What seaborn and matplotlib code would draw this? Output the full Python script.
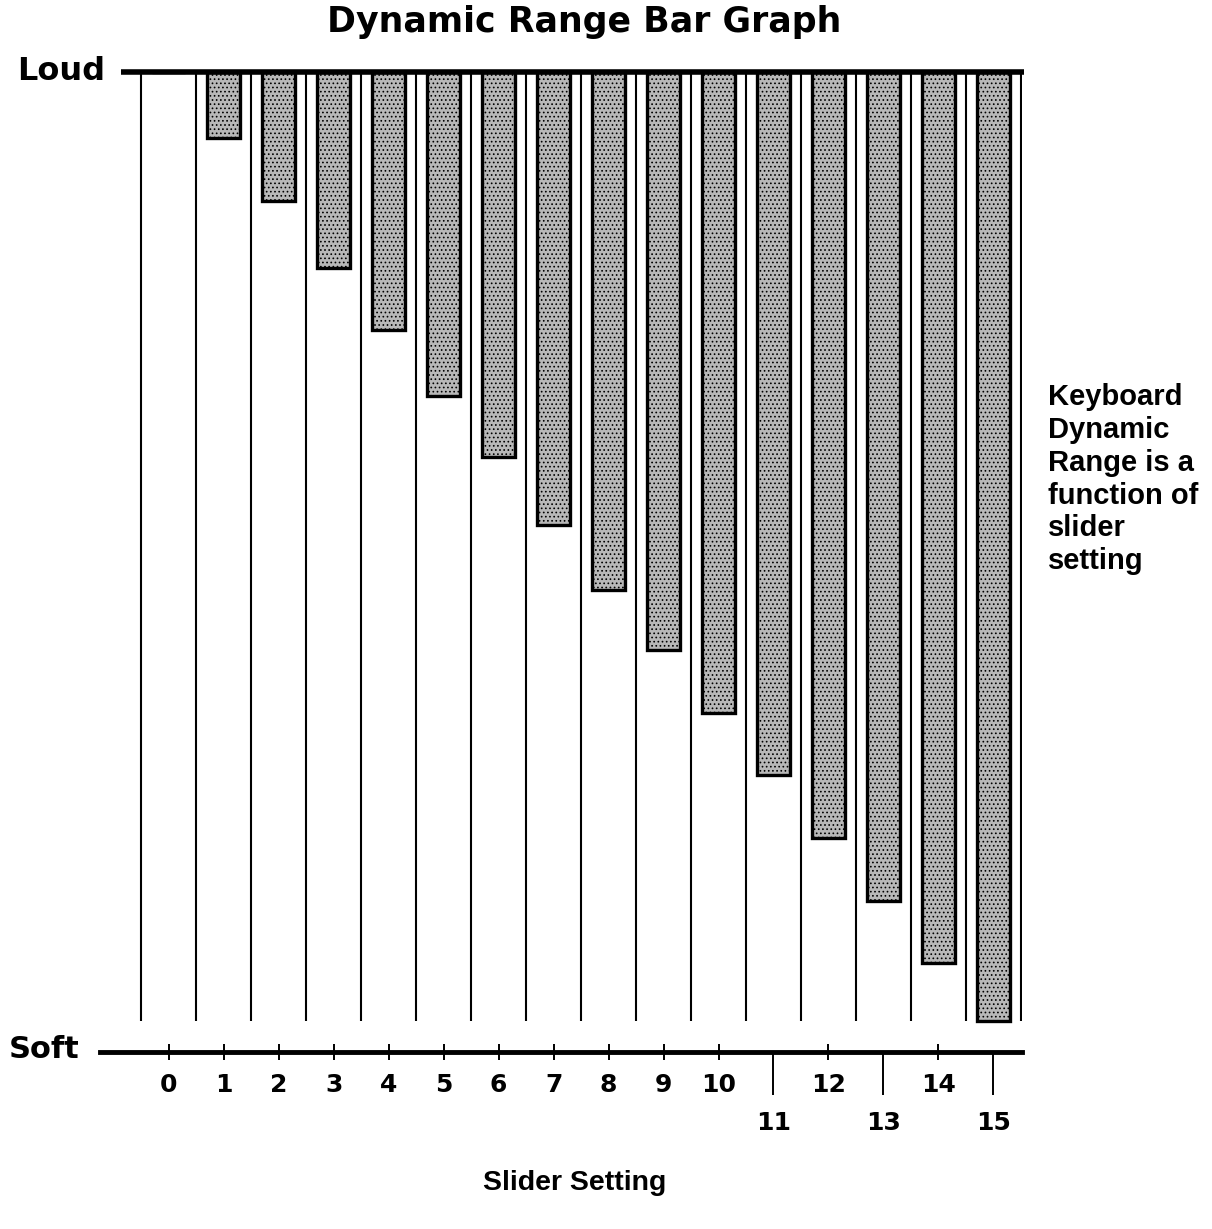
import matplotlib
matplotlib.use("Agg")
from matplotlib import pyplot as plt
import seaborn as sns
import numpy as np

# slider setting vs. how far the dynamic range reaches down from "Loud"
slider = list(range(16))
depth = [0, 1.04, 2.04, 3.1, 4.08, 5.12, 6.08, 7.16, 8.18, 9.13,
         10.13, 11.1, 12.1, 13.1, 14.08, 15.0]
upper_labels = [0, 1, 2, 3, 4, 5, 6, 7, 8, 9, 10, 12, 14]
lower_labels = [11, 13, 15]

sns.set_theme(style="white")
plt.rcParams['font.family'] = ['DejaVu Sans']
plt.rcParams['text.color'] = 'black'
plt.rcParams['xtick.color'] = 'black'
plt.rcParams['xtick.labelcolor'] = 'black'
plt.rcParams['hatch.linewidth'] = 0.7

soft = 15.48

fig = plt.figure(figsize=(12.12, 12.29), dpi=100)
ax = fig.add_axes([100 / 1212, 1 - 1065 / 1229, 922 / 1212, 1005 / 1229])

sns.barplot(x=slider, y=depth, ax=ax, color="#b8b8b8", saturation=1,
            width=0.6, edgecolor="black", linewidth=2.4, hatch="....")

# column separators and the "Loud" line
ax.vlines(np.arange(-0.5, len(slider)), 0, 15.0, color="black", lw=1.5)
ax.hlines(0, -0.86, 15.55, color="black", lw=4, clip_on=False)

ax.set_xlim(-1.25, 15.52)
ax.set_ylim(15.69, -0.19)

for s in ["left", "right", "top"]:
    ax.spines[s].set_visible(False)
ax.spines["bottom"].set_position(("data", soft))
ax.spines["bottom"].set_linewidth(3.5)
ax.spines["bottom"].set_color("black")
ax.set_yticks([])

ax.set_xticks(upper_labels)
ax.set_xticklabels([str(v) for v in upper_labels], fontsize=18, fontweight="bold")
ax.set_xticks(lower_labels, minor=True)
ax.set_xticklabels([str(v) for v in lower_labels], minor=True, fontsize=18, fontweight="bold")
ax.tick_params(axis="x", which="major", direction="inout", length=12, width=1.4,
               color="black", pad=9, bottom=True)
ax.tick_params(axis="x", which="minor", direction="out", length=31, width=1.4,
               color="black", pad=12, bottom=True)
ax.set_xlabel("")
ax.set_ylabel("")

fig.text(105 / 1212, 1 - 72 / 1229, "Loud", ha="right", va="center",
         fontsize=23, fontweight="bold")
fig.text(80 / 1212, 1 - 1050 / 1229, "Soft", ha="right", va="center",
         fontsize=22, fontweight="bold")
fig.text(584 / 1212, 1 - 22 / 1229, "Dynamic Range Bar Graph", ha="center", va="center",
         fontsize=25, fontweight="bold")

fig.text(1048 / 1212, 1 - 383 / 1229,
         "Keyboard\nDynamic\nRange is a\nfunction of\nslider\nsetting",
         ha="left", va="top", fontsize=21, fontweight="bold",
         family=["Liberation Sans"], linespacing=1.22)
fig.text(575 / 1212, 1 - 1183 / 1229, "Slider Setting", ha="center", va="center",
         fontsize=20.5, fontweight="bold", family=["Liberation Sans"])

fig.savefig("out.png", dpi=100, facecolor="white")
